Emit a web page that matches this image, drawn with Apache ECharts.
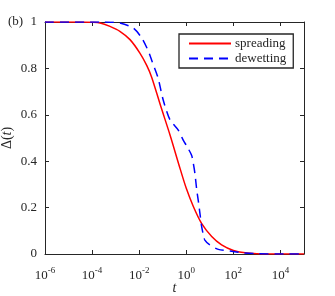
<!DOCTYPE html>
<html>
<head>
<meta charset="utf-8">
<script src="https://cdn.jsdelivr.net/npm/echarts@6/dist/echarts.min.js"></script>
<style>html,body{margin:0;padding:0;background:#fff}#c{width:335px;height:296px}</style>
</head>
<body>
<div id="c"></div>
<script>
// log10(t) positions and Delta(t) values
var spreadLogT = [-6, -4.5, -4, -3.66, -3.24, -2.82, -2.39, -1.97, -1.68, -1.47, -1.1, -0.69, -0.31, 0.0, 0.30, 0.65, 1.08, 1.5, 2.0, 2.5, 3.0, 3.5, 5];
var spreadVal  = [1, 1, 0.999, 0.996, 0.981, 0.96, 0.924, 0.866, 0.813, 0.762, 0.642, 0.513, 0.384, 0.283, 0.205, 0.132, 0.075, 0.039, 0.015, 0.005, 0.001, 0, 0];
var dewetLogT = [-6, -3.5, -3.2, -2.82, -2.25, -1.89, -1.61, -1.40, -1.2, -0.98, -0.69, -0.34, -0.13, 0.05, 0.23, 0.30, 0.37, 0.44, 0.51, 0.58, 0.65, 0.72, 0.79, 1.0, 1.36, 1.86, 2.4, 3.0, 4, 5];
var dewetVal  = [1, 1, 0.999, 0.996, 0.974, 0.931, 0.874, 0.816, 0.76, 0.664, 0.578, 0.534, 0.491, 0.46, 0.425, 0.39, 0.345, 0.28, 0.23, 0.175, 0.12, 0.085, 0.06, 0.039, 0.020, 0.013, 0.005, 0.001, 0, 0];
var xTickExp = [-6, -4, -2, 0, 2, 4];
var yTicks = [0, 0.2, 0.4, 0.6, 0.8, 1];
var seriesNames = ['spreading', 'dewetting'];

function pairs(xs, ys) { return xs.map(function (x, i) { return [x, ys[i]]; }); }

var FONT = 'Liberation Serif';
var AX = '#262626';
var chart = echarts.init(document.getElementById('c'));
var axisCommon = {
  axisLine: { show: true, onZero: false, lineStyle: { color: AX, width: 1 } },
  axisTick: { show: true, inside: true, length: 4, lineStyle: { color: AX, width: 1 } },
  splitLine: { show: false }
};
chart.setOption({
  animation: false,
  grid: { left: 45, right: 31, top: 22, bottom: 42, containLabel: false, outerBoundsMode: 'none' },
  graphic: [{ type: 'text', left: 8, top: 15, style: { text: '(b)', font: '13px "Liberation Serif"', fill: AX } }],
  legend: {
    orient: 'vertical', left: 179, top: 34,
    itemWidth: 42, itemHeight: 14, itemGap: 2,
    padding: [3, 7, 3, 9],
    borderColor: AX, borderWidth: 1.3,
    itemStyle: { color: 'transparent', borderWidth: 0, opacity: 0 },
    textStyle: { fontFamily: FONT, fontSize: 13, color: AX, padding: [0, 0, 0, -1] },
    data: seriesNames
  },
  xAxis: [
    Object.assign({}, axisCommon, {
      type: 'value', min: -6, max: 5, interval: 2, position: 'bottom',
      axisTick: Object.assign({}, axisCommon.axisTick, { customValues: xTickExp }),
      axisLabel: {
        customValues: xTickExp, margin: 12,
        formatter: function (v) { return '{b|10}{s|' + v + '}'; },
        rich: {
          b: { fontFamily: FONT, fontSize: 13, color: AX, verticalAlign: 'bottom', lineHeight: 16 },
          s: { fontFamily: FONT, fontSize: 9, color: AX, verticalAlign: 'top', lineHeight: 16 }
        }
      },
      name: 't', nameLocation: 'middle', nameGap: 27, nameMoveOverlap: false,
      nameTextStyle: { fontFamily: FONT, fontSize: 14, fontStyle: 'italic', color: AX }
    }),
    Object.assign({}, axisCommon, {
      type: 'value', min: -6, max: 5, interval: 2, position: 'top',
      axisTick: Object.assign({}, axisCommon.axisTick, { customValues: xTickExp }),
      axisLabel: { show: false }
    })
  ],
  yAxis: [
    Object.assign({}, axisCommon, {
      type: 'value', min: 0, max: 1, interval: 0.2, position: 'left',
      axisLabel: { margin: 8, fontFamily: FONT, fontSize: 13, color: AX, customValues: yTicks },
      name: '{a|Δ(}{i|t}{a|)}', nameLocation: 'middle', nameGap: 31, nameRotate: 90, nameMoveOverlap: false,
      nameTextStyle: {
        rich: {
          a: { fontFamily: FONT, fontSize: 14, color: AX },
          i: { fontFamily: FONT, fontSize: 14, fontStyle: 'italic', color: AX }
        }
      }
    }),
    Object.assign({}, axisCommon, {
      type: 'value', min: 0, max: 1, interval: 0.2, position: 'right',
      axisLabel: { show: false }
    })
  ],
  series: [
    {
      name: seriesNames[0], type: 'line', symbol: 'none', smooth: 0.3,
      xAxisIndex: 0, yAxisIndex: 0,
      lineStyle: { color: '#ff0000', width: 1.5 }, itemStyle: { color: '#ff0000' },
      data: pairs(spreadLogT, spreadVal), z: 2
    },
    {
      name: seriesNames[1], type: 'line', symbol: 'none', smooth: 0.25,
      xAxisIndex: 0, yAxisIndex: 0,
      lineStyle: { color: '#0000ff', width: 1.5, type: [9, 6] }, itemStyle: { color: '#0000ff' },
      data: pairs(dewetLogT, dewetVal), z: 3
    }
  ]
});
</script>
</body>
</html>
